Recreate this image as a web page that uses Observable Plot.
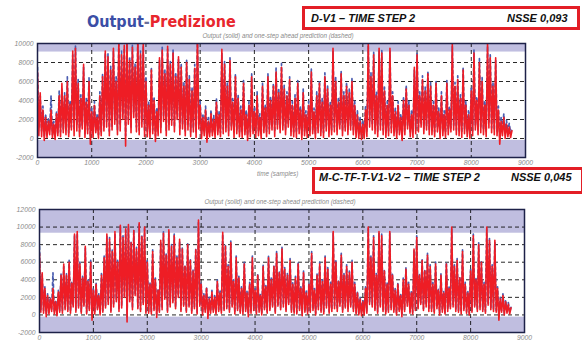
<!DOCTYPE html>
<html><head><meta charset="utf-8">
<script src="https://cdn.jsdelivr.net/npm/d3@7"></script>
<script src="https://cdn.jsdelivr.net/npm/@observablehq/plot@0.6"></script>
<style>
body{margin:0;background:#fff;}
#root{position:relative;width:582px;height:342px;overflow:hidden;background:#fff;font-family:"Liberation Sans",Arial,sans-serif;}
.abs{position:absolute;white-space:nowrap;}
.main{font-family:"DejaVu Sans Condensed","DejaVu Sans",sans-serif;font-weight:bold;font-size:16px;line-height:16px;}
.box{position:absolute;box-sizing:border-box;border:3px solid #e31e26;background:#fff;}
.bt{position:absolute;white-space:nowrap;font-family:"Liberation Sans",Arial,sans-serif;font-weight:bold;font-style:italic;font-size:11px;line-height:11px;color:#111;}
.small{position:absolute;white-space:nowrap;font-family:"Liberation Sans",Arial,sans-serif;font-style:italic;font-size:6.3px;line-height:7px;color:#8a8a8a;}
</style></head>
<body><div id="root"></div>
<script>
// sampling step of the series (samples)
const sampleStep = 25;
// Output (solid, red) - same measured output in both panels
const output = [
7000,300,4800,200,3000,-200,2200,100,1800,400,
3000,100,1500,-100,2600,300,4500,200,5800,600,
4500,400,6000,200,3600,900,9200,300,9500,800,
5800,200,4200,1000,7800,100,3800,500,6000,-600,
2800,100,3500,600,2200,0,4500,300,6500,800,
9200,1200,8600,300,7200,900,9500,1500,6000,400,
10200,800,8800,2000,9800,-800,10300,1500,8200,600,
9600,2200,7500,700,10500,400,8900,1200,10000,200,
6000,200,3500,100,7200,500,4000,-300,2800,300,
8500,600,9300,1800,6800,300,9700,900,7800,1400,
9000,700,6500,2000,8600,400,7500,1000,5500,300,
8000,900,6200,200,5000,700,7400,100,10800,1000,
3500,0,2200,300,3000,-400,1800,200,2600,300,
2000,100,3800,400,2500,200,9400,500,7800,700,
5500,300,8200,900,3800,100,6500,500,4200,200,
3000,100,5800,400,2500,-200,3500,200,6500,500,
2800,100,4500,300,2200,0,5500,600,3200,200,
6500,500,4000,900,5500,200,7000,1000,4800,600,
7500,900,5200,400,4500,1200,6200,300,3500,200,
4200,100,5800,500,3000,-100,4800,300,2500,100,
3500,300,7000,500,2800,0,4500,600,5800,300,
3800,100,6500,800,5200,200,3500,400,9500,700,
6000,400,3800,1000,6800,300,4500,800,5500,400,
4800,900,6000,400,3500,100,2500,0,1800,-100,
1500,0,3000,200,10000,1200,6500,900,8800,500,
4500,200,9500,900,9000,400,5000,100,3500,300,
9500,600,4500,300,2800,0,3500,400,2200,-200,
4000,400,5200,1000,3500,200,2500,100,7500,500,
8800,700,4500,1200,6200,500,5000,900,6800,400,
5500,400,3500,200,5800,700,2800,0,4500,300,
2500,100,5800,400,3000,700,10000,900,5500,400,
6200,300,4200,100,7200,500,3500,200,2500,0,
5000,300,9000,900,4000,400,8000,600,6000,400,
3500,200,10000,1100,8500,600,5500,400,8500,300,
3000,-600,1800,300,2200,0,1500,200,1200,100,
800];
// one-step ahead prediction, model D-V1 (dashed, blue)
const predDV1 = [
7500,1200,4500,800,3400,300,2600,500,2200,900,
4500,400,1800,300,2900,600,5000,700,5200,1000,
4800,900,6500,600,4000,1200,8800,900,9800,1500,
6200,700,4600,1400,7500,500,4200,900,6400,200,
3200,500,3900,900,2600,400,4900,700,6800,1200,
9000,1800,8900,800,7600,1300,9200,2000,6500,900,
9900,1400,9200,2500,9500,300,10000,2000,8600,1100,
9800,2800,7900,1200,10200,900,9200,1800,9700,800,
6400,700,3900,600,7500,900,4400,300,3200,800,
8200,1100,9600,2300,7200,800,9400,1400,8100,1900,
9300,1200,6900,2500,8300,900,7900,1500,5900,800,
8300,1400,6600,700,5400,1100,7800,600,10400,1500,
3900,500,2600,700,3400,200,2200,600,3000,700,
2400,500,4200,800,2900,600,9000,1000,8100,1200,
5900,800,8500,1300,4200,600,6800,900,4600,700,
3400,600,6200,800,2900,300,3900,700,6800,900,
3200,600,4900,800,2600,500,5800,1000,3600,700,
6800,1000,4400,1300,5800,700,7400,1400,5200,1100,
7900,1300,5600,900,4900,1600,6500,800,3900,700,
4600,600,6100,900,3400,400,5200,800,2900,600,
3900,800,7300,900,3200,500,4900,1000,6100,800,
4200,600,6900,1300,5600,700,3900,900,9200,1200,
6400,900,4200,1400,7100,800,4900,1200,5900,900,
5200,1300,6400,900,3900,600,2900,500,2200,400,
1900,500,3400,700,9700,1700,6900,1400,9100,1000,
4900,700,9200,1400,9300,900,5400,600,3900,800,
9200,1100,4900,800,3200,500,3900,900,2600,300,
4400,900,5600,1400,3900,700,2900,600,7200,1000,
9100,1200,4900,1600,6600,1000,5400,1300,7100,900,
5900,900,3900,700,6100,1100,3200,500,4900,800,
2900,600,6100,900,3400,1100,9700,1400,5900,900,
6600,800,4600,600,7500,1000,3900,700,2900,500,
5400,800,9300,1400,4400,900,8400,1100,6400,900,
3900,700,9700,1600,8800,1100,5900,900,8200,800,
3400,200,2200,800,2600,500,1900,700,1600,600,
1000];
// one-step ahead prediction, model M-C-TF-T-V1-V2 (dashed, blue)
const predMC = [
7800,600,4600,500,3200,100,2400,300,2000,600,
4800,300,1700,100,2800,500,4700,400,5500,800,
4700,600,6200,400,3800,1000,9000,500,9300,1000,
6000,400,4400,1200,7600,300,4000,700,6200,0,
3000,300,3700,800,2400,200,4700,500,6700,1000,
9000,1500,8800,500,7400,1100,9300,1700,6200,600,
10000,1000,9000,2200,9600,-200,10100,1700,8400,800,
9700,2400,7700,900,10300,600,9100,1400,9800,400,
6200,400,3700,300,7400,700,4200,0,3000,500,
8300,800,9500,2000,7000,500,9500,1100,8000,1600,
9200,900,6700,2200,8400,600,7700,1200,5700,500,
8200,1100,6400,400,5200,900,7600,300,10500,1200,
3700,200,2400,500,3200,0,2000,400,2800,500,
2200,300,4000,600,2700,400,9200,700,8000,900,
5700,500,8400,1100,4000,300,6700,700,4400,400,
3200,300,6000,600,2700,100,3700,400,6700,700,
3000,300,4700,500,2400,200,5700,800,3400,400,
6700,700,4200,1100,5700,400,7200,1200,5000,800,
7700,1100,5400,600,4700,1400,6400,500,3700,400,
4400,300,6000,700,3200,200,5000,500,2700,300,
3700,500,7200,700,3000,200,4700,800,6000,500,
4000,300,6700,1000,5400,400,3700,600,9300,900,
6200,600,4000,1200,7000,500,4700,1000,5700,600,
5000,1100,6200,600,3700,300,2700,200,2000,200,
1700,200,3200,400,9800,1400,6700,1100,9000,700,
4700,400,9300,1100,9200,600,5200,300,3700,500,
9300,800,4700,500,3000,200,3700,600,2400,100,
4200,600,5400,1200,3700,400,2700,300,7300,700,
9000,900,4700,1400,6400,700,5200,1100,7000,600,
5700,600,3700,400,6000,900,3000,200,4700,500,
2700,300,6000,600,3200,900,9800,1100,5700,600,
6400,500,4400,300,7400,700,3700,400,2700,200,
5200,500,9200,1100,4200,600,8200,800,6200,600,
3700,400,9800,1300,8700,800,5700,600,8300,500,
3200,-100,2000,500,2400,200,1700,400,1400,300,
900];
const xTicks = [0,1000,2000,3000,4000,5000,6000,7000,8000,9000];
const xGrid = [1000,2000,3000,4000,5000,6000,7000,8000];
const yTicksTop = [-2000,0,2000,4000,6000,8000,10000];
const yGridTop = [0,2000,4000,6000,8000];
const yTicksBottom = [-2000,0,2000,4000,6000,8000,10000,12000];
const yGridBottom = [0,2000,4000,6000,8000,10000];
const bandsTop = [{lo:9100,hi:10000},{lo:-2000,hi:-200}];
const bandsBottom = [{lo:9300,hi:12000},{lo:-2000,hi:-250}];

const RED = "#ee1d25", BLUE = "#4a5cb0", BAND = "#c0bee0", FRAME = "#1d2148";

function panel(pred, o) {
  const rows = output.map((v, i) => ({t: i * sampleStep, out: v, pred: pred[i]}));
  return Plot.plot({
    width: 582, height: o.height,
    marginTop: o.mt, marginBottom: o.mb, marginLeft: o.ml, marginRight: o.mr,
    x: {domain: [0, 9000], ticks: xTicks, tickSize: 0, tickPadding: 3, tickFormat: d => String(d), label: null},
    y: {domain: o.domain, ticks: o.yTicks, tickSize: 0, tickPadding: 4, tickFormat: d => String(d), label: null},
    style: {fontFamily: '"Liberation Sans", Arial, sans-serif', fontSize: "6.8px", fontStyle: "italic", color: "#8a8a8a", background: "transparent", overflow: "visible"},
    marks: [
      Plot.rect(o.bands, {y1: "lo", y2: "hi", fill: BAND}),
      Plot.ruleY(o.yGrid, {stroke: "#111", strokeWidth: 0.9, strokeDasharray: "4,3"}),
      Plot.ruleX(xGrid, {stroke: "#111", strokeWidth: 0.9, strokeDasharray: "4,3"}),
      Plot.line(rows, {x: "t", y: "pred", stroke: BLUE, strokeWidth: 1.7, strokeDasharray: "3,3", clip: true}),
      Plot.line(rows, {x: "t", y: "out", stroke: RED, strokeWidth: 1.6, clip: true}),
      Plot.frame({stroke: FRAME, strokeWidth: 1.5})
    ]
  });
}

const root = document.getElementById("root");
const topPlot = panel(predDV1, {height: 180, mt: 43, mb: 23, ml: 37, mr: 57, domain: [-2000, 10000], yTicks: yTicksTop, yGrid: yGridTop, bands: bandsTop});
topPlot.style.position = "absolute"; topPlot.style.left = "0px"; topPlot.style.top = "0px";
root.appendChild(topPlot);
const botPlot = panel(predMC, {height: 162, mt: 29, mb: 10, ml: 39, mr: 58, domain: [-2000, 12000], yTicks: yTicksBottom, yGrid: yGridBottom, bands: bandsBottom});
botPlot.style.position = "absolute"; botPlot.style.left = "0px"; botPlot.style.top = "180px";
root.appendChild(botPlot);

function add(html, cls, css) {
  const d = document.createElement("div");
  d.className = cls; d.innerHTML = html;
  Object.assign(d.style, css);
  root.appendChild(d);
  return d;
}
add('<span style="color:#3b4ea6">Output</span><span style="color:#6a6f9a">-</span><span style="color:#e8262d">Predizione</span>', "abs main", {left: "87px", top: "14px"});
add("", "box", {left: "302px", top: "6px", width: "278px", height: "24px"});
add("D-V1 – TIME STEP 2", "bt", {left: "311px", top: "12.5px"});
add("NSSE 0,093", "bt", {left: "507px", top: "12.5px"});
add("", "box", {left: "312px", top: "167px", width: "272px", height: "27px"});
add("M-C-TF-T-V1-V2 – TIME STEP 2", "bt", {left: "319px", top: "172px"});
add("NSSE 0,045", "bt", {left: "511px", top: "172px"});
const t1 = add("Output (solid) and one-step ahead prediction (dashed)", "small", {left: "278px", top: "32px"});
t1.style.transform = "translateX(-50%)";
const t2 = add("Output (solid) and one-step ahead prediction (dashed)", "small", {left: "280px", top: "198px"});
t2.style.transform = "translateX(-50%)";
add("time (samples)", "small", {left: "257px", top: "170px"});
</script>
</body></html>
